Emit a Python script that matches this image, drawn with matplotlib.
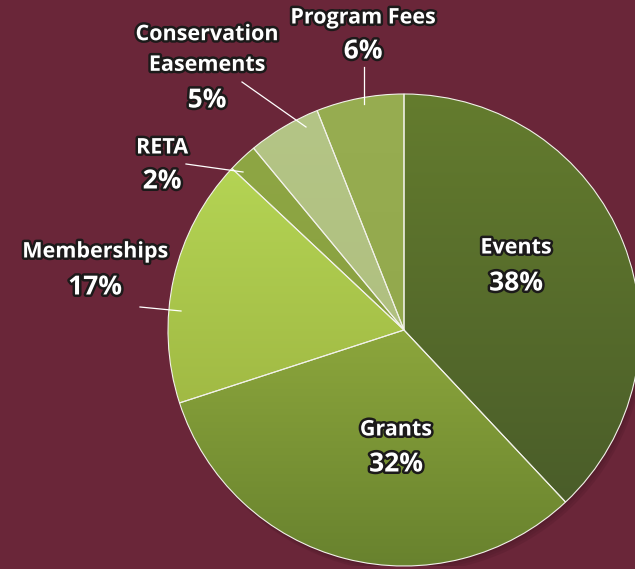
import numpy as np
import matplotlib
matplotlib.use("Agg")
import matplotlib.pyplot as plt
import matplotlib.patheffects as pe
from matplotlib.colors import LinearSegmentedColormap
from matplotlib.patches import Circle

# donnees du graphique (sens horaire depuis le haut)
categories = ["Events", "Grants", "Memberships", "RETA", "Conservation\nEasements", "Program Fees"]
shares = [38, 32, 17, 2, 5, 6]
pct_labels = ["38%", "32%", "17%", "2%", "5%", "6%"]

# couleurs haut / bas de chaque part (degrade vertical)
top_colors = ["#647c2e", "#8ca63c", "#b4d454", "#8ea644", "#b4c586", "#97ad51"]
bottom_colors = ["#4a5d29", "#68822e", "#a1ba44", "#8aa140", "#b0c080", "#93a94d"]

BG = "#6a2639"
W, H = 635, 569

fig = plt.figure(figsize=(W / 100, H / 100), dpi=100)
fig.patch.set_facecolor(BG)

# centre du camembert en pixels (depuis le coin haut-gauche) et rayon
cx, cy, R = 404, 330, 236
ax = fig.add_axes([(cx - R) / W, (H - cy - R) / H, 2 * R / W, 2 * R / H])
ax.set_facecolor(BG)
ax.axis("off")


def px(x, y):
    # pixel (haut-gauche) -> fraction de figure
    return x / W, 1 - y / H


# ombre legere en bas a droite
for k, a in enumerate([0.10, 0.10, 0.12]):
    off = 0.006 * (k + 1)
    ax.add_patch(Circle((off, -off * 1.6), 1.0, color="#2c0c16", alpha=a, zorder=0, lw=0))

wedges, _ = ax.pie(shares, startangle=90, counterclock=False, radius=1,
                   wedgeprops=dict(edgecolor="#f2f2ea", linewidth=0.8))

for i, w in enumerate(wedges):
    w.set_facecolor("none")
    w.set_zorder(3)
    bb = w.get_path().get_extents()
    cmap = LinearSegmentedColormap.from_list("g%d" % i, [bottom_colors[i], top_colors[i]])
    grad = np.linspace(0, 1, 256).reshape(-1, 1)
    im = ax.imshow(grad, cmap=cmap, origin="lower", aspect="auto",
                   extent=(bb.x0, bb.x1, bb.y0, bb.y1), zorder=2, interpolation="bilinear")
    im.set_clip_path(w)

ax.set_xlim(-1, 1)
ax.set_ylim(-1, 1)

stroke = [pe.withStroke(linewidth=3.6, foreground="#1c1a1a")]
name_style = dict(color="white", fontsize=15.5, fontweight="bold", family="Open Sans",
                  ha="center", va="center", path_effects=stroke)
pct_style = dict(name_style, fontsize=19)

# positions des etiquettes (pixels) : nom, pourcentage
name_pos = [(516, 248), (396, 430), (95, 252), (162, 148), (207, 50), (363, 18)]
pct_pos = [(516, 283), (396, 464), (95, 287), (162, 181), (207, 100), (363, 51)]

for i in range(len(categories)):
    fig.text(*px(*name_pos[i]), categories[i], linespacing=1.6, **name_style)
    fig.text(*px(*pct_pos[i]), pct_labels[i], **pct_style)

# traits de rappel
leaders = [((140, 307), (181, 311)), ((186, 164), (243, 172)),
           ((242, 82), (306, 127)), ((363.5, 67), (363.5, 104))]
for (x0, y0), (x1, y1) in leaders:
    a0, b0 = px(x0, y0)
    a1, b1 = px(x1, y1)
    fig.add_artist(plt.Line2D([a0, a1], [b0, b1], color="white", lw=0.9,
                              transform=fig.transFigure))

fig.savefig("out.png", dpi=100, facecolor=BG)
